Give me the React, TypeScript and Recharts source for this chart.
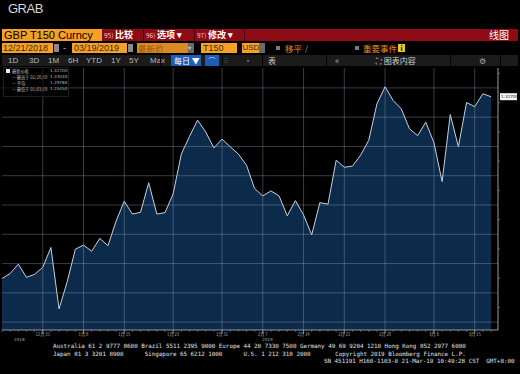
import React from 'react';
import { AreaChart, Area, XAxis, YAxis, ReferenceLine } from 'recharts';

// trading days shown on the chart
const dates = [
  '12/21', '12/24', '12/26', '12/27', '12/28', '12/31', '1/2', '1/3', '1/4', '1/7',
  '1/8', '1/9', '1/10', '1/11', '1/14', '1/15', '1/16', '1/17', '1/18', '1/21',
  '1/22', '1/23', '1/24', '1/25', '1/28', '1/29', '1/30', '1/31', '2/1', '2/4',
  '2/5', '2/6', '2/7', '2/8', '2/11', '2/12', '2/13', '2/14', '2/15', '2/18',
  '2/19', '2/20', '2/21', '2/22', '2/25', '2/26', '2/27', '2/28', '3/1', '3/4',
  '3/5', '3/6', '3/7', '3/8', '3/11', '3/12', '3/13', '3/14', '3/15', '3/18', '3/19',
];

// GBP T150 fix
const closes = [
  1.2649, 1.2666, 1.2698, 1.2653, 1.2663, 1.2687, 1.2755, 1.2545, 1.2638, 1.2749,
  1.2763, 1.2742, 1.2786, 1.2761, 1.2845, 1.2913, 1.2869, 1.2875, 1.2976, 1.2869,
  1.2874, 1.2938, 1.3074, 1.3134, 1.3190, 1.3149, 1.3095, 1.3125, 1.3099, 1.3074,
  1.3036, 1.2956, 1.2931, 1.2948, 1.2931, 1.2863, 1.2915, 1.2866, 1.2798, 1.2908,
  1.2903, 1.3053, 1.3029, 1.3033, 1.3070, 1.3121, 1.3245, 1.3304, 1.3257, 1.3228,
  1.3160, 1.3137, 1.3183, 1.3113, 1.2980, 1.3209, 1.3099, 1.3250, 1.3236, 1.3280, 1.3270,
];

const labelDates = ['12/31', '1/8', '1/15', '1/23', '1/31', '2/7', '2/14', '2/21', '2/28', '3/8', '3/15'];
const labelTexts = ['12月 31', '1月 8', '1月 15', '1月 23', '1月 31', '2月 7', '2月 14', '2月 21', '2月 28', '3月 8', '3月 15'];

const gridPrices = [1.25, 1.26, 1.27, 1.28, 1.29, 1.3, 1.31, 1.32, 1.33];
const priceTicks = [1.25, 1.255, 1.26, 1.265, 1.27, 1.275, 1.28, 1.285, 1.29, 1.295, 1.3, 1.305, 1.31, 1.315, 1.32, 1.325, 1.33, 1.335];

const legendNames = ['最新价格', '最高于 02/28/19', '平均', '最低于 01/03/19'];
const legendValues = ['1.32700', '1.33040', '1.29780', '1.25450'];

const periods = ['1D', '3D', '1M', '6H', 'YTD', '1Y', '5Y', 'Max'];
const periodX = [8, 29, 48, 68, 86, 111, 129, 150];

const footerLines = [
  'Australia 61 2 9777 8600 Brazil 5511 2395 9000 Europe 44 20 7330 7500 Germany 49 69 9204 1210 Hong Kong 852 2977 6000',
  'Japan 81 3 3201 8900      Singapore 65 6212 1000      U.S. 1 212 318 2000       Copyright 2019 Bloomberg Finance L.P.',
];
const footerStamp = 'SN 451191 H160-1103-0 21-Mar-19 10:49:28 CST  GMT+8:00';

const data = dates.map((d, i) => ({ d, v: closes[i] }));
const last = closes[closes.length - 1];

const ORANGE = '#f6a125';
const CJK = '"Noto Sans CJK SC", "Liberation Sans", sans-serif';
const GRID = 'rgba(175,185,200,0.4)';

const Box = ({ x, y, w, h, bg, color = '#000', fs = 10, children, style }: any) => (
  <div
    style={{
      position: 'absolute', left: x, top: y, width: w, height: h, background: bg, color,
      fontSize: fs, lineHeight: `${h}px`, whiteSpace: 'nowrap', fontFamily: CJK, ...style,
    }}
  >
    {children}
  </div>
);

const XTick = (props: any) => {
  const { x, y, payload } = props;
  const idx = labelDates.indexOf(payload.value);
  if (idx < 0) return <g />;
  return (
    <g>
      <line x1={x} x2={x} y1={y - 4} y2={y} stroke="#9a9a9a" strokeWidth={0.8} />
      <text x={x} y={y + 1.8} fontSize={4.2} fill="#b0b0b0" textAnchor="middle" fontFamily={CJK}>
        {labelTexts[idx]}
      </text>
    </g>
  );
};

const YTick = (props: any) => {
  const { x, y, payload } = props;
  if (!gridPrices.some((p) => Math.abs(p - payload.value) < 1e-6)) return <g />;
  return (
    <text x={x} y={y + 1.5} fontSize={4.2} fill="#c8c8c8" textAnchor="start" fontFamily="DejaVu Sans">
      {payload.value.toFixed(5)}
    </text>
  );
};

const LastLabel = (props: any) => {
  const vb = props.viewBox || {};
  const x0 = (vb.x || 0) + (vb.width || 0) + 2;
  return (
    <g>
      <rect x={x0} y={vb.y - 3.5} width={17} height={7} fill="#f4f4f4" />
      <text x={x0 + 1} y={vb.y + 1.6} fontSize={4.2} fill="#111" fontFamily="DejaVu Sans">
        {last.toFixed(5)}
      </text>
    </g>
  );
};

export default function App() {
  return (
    <div style={{ position: 'fixed', left: 0, top: 0, width: 520, height: 374, background: '#000', overflow: 'hidden' }}>
      <div style={{ position: 'absolute', left: 0, top: 0 }}>
        <AreaChart width={520} height={374} data={data} margin={{ top: 68, right: 0, bottom: 0, left: 2 }}>
          <XAxis
            dataKey="d"
            interval={0}
            tickSize={2}
            height={44}
            padding={{ left: 0, right: 7 }}
            tick={<XTick />}
            axisLine={{ stroke: '#9a9a9a' }}
            tickLine={{ stroke: '#8a8a8a', strokeWidth: 0.6 }}
          />
          <YAxis
            orientation="right"
            domain={[1.2473, 1.3368]}
            ticks={priceTicks}
            allowDataOverflow
            width={22}
            tickSize={2}
            tick={<YTick />}
            axisLine={{ stroke: '#9a9a9a' }}
            tickLine={{ stroke: '#9a9a9a', strokeWidth: 0.6 }}
          />
          <Area
            type="linear"
            dataKey="v"
            stroke="#c4d2e0"
            strokeWidth={1}
            fill="#0c2b4b"
            fillOpacity={1}
            dot={false}
            activeDot={false}
            isAnimationActive={false}
          />
          {gridPrices.map((p) => (
            <ReferenceLine key={'h' + p} y={p} stroke={GRID} strokeWidth={0.8} />
          ))}
          {labelDates.map((d) => (
            <ReferenceLine key={'v' + d} x={d} stroke={GRID} strokeWidth={0.8} />
          ))}
          <ReferenceLine y={last} stroke="none" ifOverflow="visible" label={LastLabel} />
        </AreaChart>
      </div>

      {/* title */}
      <div style={{ position: 'absolute', left: 8, top: 1, color: '#d8d8d8', fontSize: 13, fontFamily: '"Liberation Sans", sans-serif', letterSpacing: -0.5 }}>
        GRAB
      </div>

      {/* row 1 */}
      <Box x={2} y={29} w={100} h={12} bg={ORANGE} fs={11} style={{ paddingLeft: 2, boxSizing: 'border-box', fontFamily: '"Liberation Sans", sans-serif' }}>
        GBP T150 Curncy
      </Box>
      <Box x={102} y={29} w={416} h={12} bg="#8d0b15" />
      {[
        { x: 104, t: '95)', c: '比较' },
        { x: 146, t: '96)', c: '选项 ▾' },
        { x: 197, t: '97)', c: '修改 ▾' },
      ].map((b) => (
        <Box key={b.t} x={b.x} y={29} w={46} h={12} color="#fff" fs={9} style={{ fontWeight: 700 }}>
          <span style={{ fontSize: 6.5, color: '#f2c4c4', fontWeight: 400 }}>{b.t} </span>
          {b.c}
        </Box>
      ))}
      {[143, 194, 244].map((x) => (
        <Box key={x} x={x} y={29} w={1} h={12} bg="#4a0308" />
      ))}
      <Box x={489} y={29} w={26} h={12} color="#fff" fs={10}>线图</Box>

      {/* row 2 */}
      <Box x={2} y={43} w={51} h={10} bg={ORANGE} color="#3a2a10" fs={9} style={{ paddingLeft: 1, boxSizing: 'border-box', fontFamily: '"Liberation Sans", sans-serif' }}>12/21/2018</Box>
      <Box x={54} y={44} w={5} h={8} bg="#8a8a8a" />
      <Box x={63} y={43} w={6} h={10} color="#ccc" fs={9}>-</Box>
      <Box x={72} y={43} w={55} h={10} bg={ORANGE} color="#3a2a10" fs={9} style={{ paddingLeft: 2, boxSizing: 'border-box', fontFamily: '"Liberation Sans", sans-serif' }}>03/19/2019</Box>
      <Box x={128} y={44} w={5} h={8} bg="#8a8a8a" />
      <Box x={137} y={43} w={51} h={10} bg="#d98a22" color="#9c5510" fs={8.5} style={{ paddingLeft: 1, boxSizing: 'border-box' }}>最新价</Box>
      <Box x={188} y={43} w={6} h={10} bg="#6a6a6a" color="#ccc" fs={6}>▾</Box>
      <Box x={201} y={43} w={36} h={10} bg={ORANGE} color="#3a2a10" fs={9} style={{ paddingLeft: 2, boxSizing: 'border-box', fontFamily: '"Liberation Sans", sans-serif' }}>T150</Box>
      <Box x={242} y={43} w={17} h={10} bg={ORANGE} color="#3a2a10" fs={8} style={{ paddingLeft: 0.5, boxSizing: 'border-box', fontFamily: '"Liberation Sans", sans-serif' }}>USD</Box>
      <Box x={259} y={43} w={6} h={10} bg="#6a6a6a" />
      <Box x={276} y={46} w={4} h={4} bg="#7a7a7a" />
      <Box x={285} y={43} w={20} h={10} color="#e8891f" fs={8.5}>移平</Box>
      <Box x={305} y={43} w={6} h={10} color="#aaa" fs={8}>/</Box>
      <Box x={355} y={46} w={4} h={4} bg="#7a7a7a" />
      <Box x={363} y={43} w={34} h={10} color="#e8891f" fs={8.5}>重要事件</Box>
      <Box x={398} y={44} w={7} h={8} bg="#e6cc22" color="#000" fs={7} style={{ textAlign: 'center', fontWeight: 700 }}>i</Box>

      {/* row 3 */}
      <Box x={2} y={55} w={516} h={11} bg="#1b1b1b" />
      {periods.map((p, i) => (
        <Box key={p} x={periodX[i]} y={55} w={18} h={11} color="#b8b8b8" fs={8} style={{ fontFamily: '"Liberation Sans", sans-serif' }}>{p}</Box>
      ))}
      <Box x={171} y={55} w={30} h={11} bg="#1f5db5" color="#fff" fs={8} style={{ paddingLeft: 3, boxSizing: 'border-box' }}>每日 ▼</Box>
      <Box x={205} y={55} w={14} h={11} bg="#1f5db5" color="#cfe0ff" fs={7} style={{ textAlign: 'center' }}>⌒</Box>
      <Box x={224} y={55} w={8} h={11} color="#666" fs={7}>⁝⁝</Box>
      <Box x={244} y={55} w={6} h={11} color="#999" fs={8}>•</Box>
      <Box x={268} y={55} w={12} h={11} color="#ccc" fs={8}>表</Box>
      <Box x={335} y={55} w={10} h={11} color="#aaa" fs={9}>«</Box>
      <Box x={376} y={55} w={44} h={11} color="#ccc" fs={8}>⛶ 图表内容</Box>
      <Box x={479} y={55} w={10} h={11} color="#aaa" fs={8}>⚙</Box>
      {[160, 222, 262, 326, 450, 500].map((x) => (
        <Box key={x} x={x} y={55} w={1} h={11} bg="#050505" />
      ))}

      {/* legend */}
      <div style={{ position: 'absolute', left: 3, top: 67, width: 64, height: 28, border: '1px solid #1e1e1e', background: 'rgba(0,0,0,0.6)' }} />
      <div style={{ position: 'absolute', left: 6, top: 69, width: 4, height: 4, background: '#f0f0f0' }} />
      {legendNames.map((n, i) => (
        <React.Fragment key={n}>
          <div style={{ position: 'absolute', left: 12, top: 68 + i * 6, fontSize: 4.2, lineHeight: '6px', color: '#bdbdbd', fontFamily: CJK, whiteSpace: 'nowrap' }}>
            {i > 0 ? '— ' : ''}{n}
          </div>
          <div style={{ position: 'absolute', left: 50, top: 68 + i * 6, fontSize: 4.2, lineHeight: '6px', color: '#bdbdbd', fontFamily: '"DejaVu Sans", sans-serif' }}>
            {legendValues[i]}
          </div>
        </React.Fragment>
      ))}

      {/* year labels */}
      <div style={{ position: 'absolute', left: 14, top: 337, fontSize: 4.2, lineHeight: '5px', color: '#aaa', fontFamily: '"DejaVu Sans", sans-serif' }}>2018</div>
      <div style={{ position: 'absolute', left: 262, top: 337, fontSize: 4.2, lineHeight: '5px', color: '#aaa', fontFamily: '"DejaVu Sans", sans-serif' }}>2019</div>

      {/* footer */}
      {footerLines.map((l, i) => (
        <div key={i} style={{ position: 'absolute', left: 53, top: 343 + i * 7.5, fontSize: 5.86, lineHeight: '7px', color: '#e0e0e0', fontFamily: '"DejaVu Sans Mono", monospace', whiteSpace: 'pre' }}>
          {l}
        </div>
      ))}
      <div style={{ position: 'absolute', left: 324, top: 358, fontSize: 5.86, lineHeight: '7px', color: '#e0e0e0', fontFamily: '"DejaVu Sans Mono", monospace', whiteSpace: 'pre' }}>
        {footerStamp}
      </div>
    </div>
  );
}
